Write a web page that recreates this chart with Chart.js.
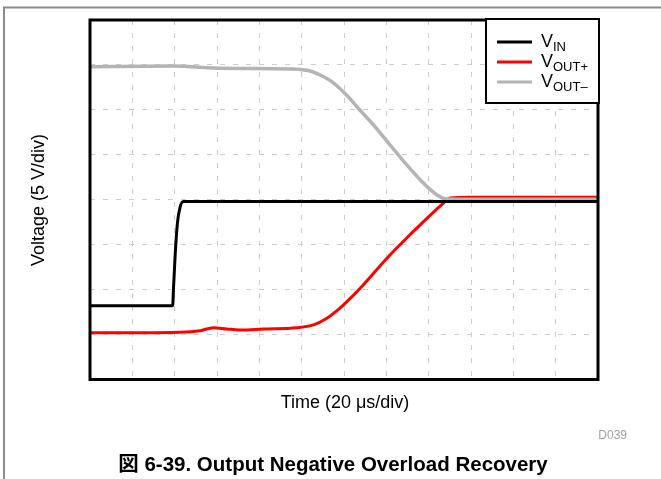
<!DOCTYPE html>
<html>
<head>
<meta charset="utf-8">
<script src="https://cdn.jsdelivr.net/npm/chart.js@4/dist/chart.umd.min.js"></script>
<style>
  html, body { margin: 0; padding: 0; background: #fff; }
  #wrap { position: relative; width: 661px; height: 479px; }
</style>
</head>
<body>
<div id="wrap"><canvas id="chart-overload" width="661" height="479"></canvas></div>
<script>
// time in µs (20 µs/div, 12 div), voltage in V (5 V/div, 8 div)
const vinTime = [0, 10, 20, 30, 38.8, 39.1, 39.4, 40.2, 41.3, 42.6, 44.1, 50, 80, 120, 160, 200, 240];
const vinVolts = [-11.8, -11.8, -11.8, -11.8, -11.8, -11.7, -10.1, -6.3, -2.6, -0.8, -0.2, -0.2, -0.2, -0.2, -0.2, -0.2, -0.2];

const voutPosTime = [0, 20, 42.6, 52, 58.3, 64.6, 70.9, 81.9, 97.7, 105.6, 111.9, 117.4, 121.4, 129.1, 140.3, 152.7, 160.8, 167.8, 170, 180, 200, 220, 240];
const voutPosVolts = [-14.8, -14.8, -14.75, -14.57, -14.23, -14.38, -14.49, -14.38, -14.23, -13.93, -13.19, -12.2, -11.34, -9.48, -6.51, -3.55, -1.7, -0.22, 0.2, 0.27, 0.27, 0.27, 0.27];

const voutNegTime = [0, 39.2, 62.9, 94.6, 104, 110.3, 114.2, 118.2, 122.2, 126.1, 133.9, 141.8, 149.7, 157.6, 163.9, 168.6, 180, 200, 240];
const voutNegVolts = [14.8, 14.88, 14.62, 14.54, 14.32, 13.69, 13.15, 12.35, 11.4, 10.35, 8.32, 6.09, 3.87, 1.83, 0.53, 0.08, 0.05, 0.05, 0.05];

const xTicks = { min: 0, max: 240, step: 20 };
const yTicks = { min: -20, max: 20, step: 5 };

const FONT = '"Liberation Sans", Arial, "Noto Sans CJK JP", sans-serif';

function pts(xs, ys) {
  return xs.map((x, i) => ({ x: x, y: ys[i] }));
}

const legendItems = [
  { base: 'V', sub: 'IN', color: '#000000' },
  { base: 'V', sub: 'OUT+', color: '#ff0000' },
  { base: 'V', sub: 'OUT\u2013', color: '#b4b4b4' },
];

// frame, plot border, legend box and the captions
const decorations = {
  id: 'decorations',
  beforeDraw(chart) {
    const c = chart.ctx;
    c.save();
    c.fillStyle = '#fff';
    c.fillRect(0, 0, chart.width, chart.height);
    c.strokeStyle = '#8a8a8a';
    c.lineWidth = 2;
    c.beginPath();
    c.moveTo(4, 479);
    c.lineTo(4, 7.5);
    c.lineTo(661, 7.5);
    c.stroke();
    c.restore();
  },
  afterDraw(chart) {
    const c = chart.ctx;
    const a = chart.chartArea;
    c.save();
    c.strokeStyle = '#000';
    c.lineWidth = 3;
    c.strokeRect(a.left, a.top, a.right - a.left, a.bottom - a.top);

    // legend
    const lx = 486, ly = 19, lw = 113, lh = 84;
    c.fillStyle = '#fff';
    c.fillRect(lx, ly, lw, lh);
    c.lineWidth = 2;
    c.strokeRect(lx, ly, lw, lh);
    legendItems.forEach((it, i) => {
      const y = 42 + i * 20;
      c.strokeStyle = it.color;
      c.lineWidth = 3;
      c.beginPath();
      c.moveTo(497, y);
      c.lineTo(532, y);
      c.stroke();
      c.fillStyle = '#000';
      c.textBaseline = 'alphabetic';
      c.textAlign = 'left';
      c.font = '18px ' + FONT;
      c.fillText(it.base, 541, y + 5);
      const w = c.measureText(it.base).width;
      c.font = '13px ' + FONT;
      c.fillText(it.sub, 541 + w, y + 9);
    });

    // axis titles
    c.fillStyle = '#000';
    c.font = '18px ' + FONT;
    c.textAlign = 'center';
    c.textBaseline = 'middle';
    c.fillText('Time (20 \u03bcs/div)', 345, 403);
    c.save();
    c.translate(39, 200);
    c.rotate(-Math.PI / 2);
    c.fillText('Voltage (5 V/div)', 0, 0);
    c.restore();

    c.fillStyle = '#a0a0a0';
    c.font = '12px ' + FONT;
    c.textAlign = 'right';
    c.fillText('D039', 627, 436);

    c.fillStyle = '#000';
    c.font = 'bold 20.5px ' + FONT;
    c.textAlign = 'center';
    c.fillText('図 6-39. Output Negative Overload Recovery', 333, 465);
    c.restore();
  },
};

const gridStyle = {
  color: '#cdcdcd',
  lineWidth: 1,
  drawTicks: false,
};

new Chart(document.getElementById('chart-overload'), {
  type: 'line',
  plugins: [decorations],
  data: {
    datasets: [
      // VIN on top, VOUT- over VOUT+
      { label: 'VIN', data: pts(vinTime, vinVolts), borderColor: '#000', borderWidth: 3, order: 0 },
      { label: 'VOUT+', data: pts(voutPosTime, voutPosVolts), borderColor: '#ff0000', borderWidth: 3, order: 2 },
      { label: 'VOUT-', data: pts(voutNegTime, voutNegVolts), borderColor: '#b4b4b4', borderWidth: 3.5, order: 1 },
    ],
  },
  options: {
    responsive: false,
    animation: false,
    layout: { padding: { left: 90, top: 20, right: 63, bottom: 99.5 } },
    elements: {
      point: { radius: 0 },
      line: { cubicInterpolationMode: 'monotone', borderCapStyle: 'round', borderJoinStyle: 'round' },
    },
    plugins: {
      legend: { display: false },
      tooltip: { enabled: false },
    },
    scales: {
      x: {
        type: 'linear',
        min: xTicks.min,
        max: xTicks.max,
        ticks: { display: false, stepSize: xTicks.step },
        grid: gridStyle,
        border: { display: false, dash: [5, 8] },
      },
      y: {
        type: 'linear',
        min: yTicks.min,
        max: yTicks.max,
        ticks: { display: false, stepSize: yTicks.step },
        grid: gridStyle,
        border: { display: false, dash: [5, 8] },
      },
    },
  },
});
</script>
</body>
</html>
